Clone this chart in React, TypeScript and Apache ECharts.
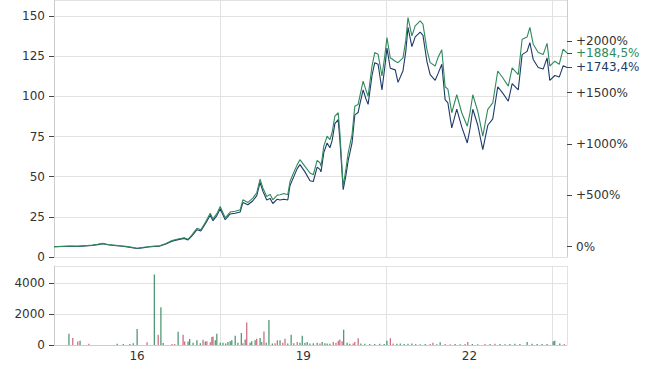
import React, { useEffect, useRef } from "react";
import * as echarts from "echarts";

// x values: years since Jan 2015
const X_MAX = 9.26;
const X_GRID_STEP = 3;
const X_LABEL_POS = [1.5, 4.5, 7.5];
const X_LABELS = ["16", "19", "22"];

const PRICE_T = [
  0.0, 0.14, 0.29, 0.43, 0.56, 0.69, 0.79, 0.88, 0.97, 1.08, 1.19, 1.3, 1.41, 1.5, 1.59, 1.7, 1.81, 1.91,
  2.02, 2.13, 2.24, 2.35, 2.42, 2.49, 2.58, 2.65, 2.73, 2.82, 2.87, 2.94, 3.0, 3.09, 3.18, 3.27, 3.36, 3.41,
  3.5, 3.59, 3.66, 3.72, 3.77, 3.84, 3.9, 3.95, 4.03, 4.08, 4.15, 4.22, 4.26, 4.31, 4.39, 4.44, 4.53, 4.62,
  4.68, 4.75, 4.8, 4.82, 4.87, 4.93, 4.98, 5.02, 5.07, 5.13, 5.16, 5.22, 5.27, 5.31, 5.38, 5.43, 5.49, 5.52,
  5.58, 5.63, 5.67, 5.74, 5.79, 5.85, 5.92, 5.97, 6.01, 6.07, 6.16, 6.21, 6.3, 6.35, 6.39, 6.46, 6.52, 6.61,
  6.66, 6.73, 6.79, 6.88, 6.93, 7.0, 7.06, 7.11, 7.18, 7.27, 7.36, 7.46, 7.51, 7.56, 7.65, 7.74, 7.83, 7.92,
  8.01, 8.1, 8.2, 8.27, 8.38, 8.45, 8.54, 8.59, 8.65, 8.74, 8.83, 8.9, 8.95, 9.04, 9.12, 9.19, 9.26,
];

const GREEN = [
  6.4, 6.6, 6.8, 6.7, 7.0, 7.4, 7.9, 8.5, 7.8, 7.4, 7.0, 6.6, 6.0, 5.4, 5.9, 6.4, 6.8, 7.0,
  8.4, 10.2, 11.2, 12.0, 11.0, 13.8, 17.9, 17.0, 21.5, 27.3, 23.7, 27.0, 31.4, 24.4, 28.0, 28.5, 29.4, 35.6,
  34.0, 36.7, 40.0, 48.5, 43.0, 37.7, 39.0, 35.6, 38.5, 38.8, 39.5, 38.8, 47.0, 51.2, 57.5, 60.6, 56.4, 52.3,
  51.2, 60.2, 58.7, 56.4, 69.0, 75.2, 73.0, 77.5, 87.7, 89.8, 77.5, 43.9, 55.0, 64.8, 76.2, 93.9, 95.0, 100.0,
  109.5, 104.0, 100.0, 118.9, 127.3, 126.2, 112.7, 125.0, 136.6, 124.0, 121.9, 121.0, 124.0, 135.0, 149.0, 137.7, 143.9, 147.0,
  145.0, 129.4, 121.0, 118.9, 124.0, 129.0, 106.0, 104.5, 89.8, 101.0, 89.8, 81.4, 90.0, 101.0, 90.6, 75.2, 91.9, 95.9,
  115.8, 111.6, 106.4, 117.7, 113.6, 135.6, 137.0, 143.0, 132.5, 127.3, 126.0, 133.0, 118.9, 121.9, 120.0, 129.4, 127.0,
];

const BLUE = [
  6.4, 6.5, 6.7, 6.6, 6.9, 7.2, 7.7, 8.3, 7.6, 7.2, 6.8, 6.4, 5.8, 5.3, 5.7, 6.2, 6.5, 6.8,
  8.1, 9.8, 10.8, 11.6, 10.6, 13.2, 17.0, 16.2, 20.5, 26.0, 22.6, 25.8, 30.0, 23.2, 26.8, 27.2, 28.0, 34.0,
  32.5, 35.0, 38.2, 46.5, 41.0, 35.5, 36.5, 33.3, 36.0, 35.5, 36.0, 35.5, 44.5, 48.5, 55.0, 57.5, 53.0, 47.5,
  47.0, 56.0, 54.5, 53.0, 65.0, 71.0, 68.0, 72.5, 83.0, 85.5, 73.0, 41.9, 51.0, 60.0, 71.0, 88.5, 90.0, 95.0,
  104.0, 98.5, 95.0, 113.0, 121.0, 120.0, 104.0, 118.0, 130.0, 117.5, 116.5, 108.7, 116.0, 128.0, 143.0, 131.0, 137.0, 140.0,
  138.0, 122.0, 113.6, 110.0, 114.0, 120.0, 98.0, 96.0, 80.4, 92.0, 81.0, 71.0, 80.0, 92.0, 82.0, 66.8, 82.0, 86.0,
  106.0, 102.0, 97.0, 108.0, 104.0, 126.0, 128.0, 133.5, 123.0, 118.0, 117.0, 124.0, 110.0, 113.0, 112.0, 119.0, 118.0,
];

const VOL_T = [
  0.27, 0.34, 0.43, 0.47, 0.63, 1.14, 1.25, 1.37, 1.43, 1.5, 1.68, 1.81, 1.88, 1.93, 1.97, 2.13, 2.18, 2.24,
  2.33, 2.36, 2.42, 2.45, 2.51, 2.58, 2.64, 2.69, 2.73, 2.76, 2.82, 2.85, 2.87, 2.91, 2.94, 3.0, 3.05, 3.1,
  3.14, 3.18, 3.21, 3.27, 3.32, 3.38, 3.41, 3.45, 3.48, 3.54, 3.57, 3.63, 3.66, 3.72, 3.75, 3.79, 3.83, 3.88,
  3.94, 3.99, 4.03, 4.08, 4.13, 4.17, 4.22, 4.28, 4.33, 4.39, 4.44, 4.48, 4.53, 4.57, 4.62, 4.68, 4.75, 4.8,
  4.84, 4.89, 4.93, 4.98, 5.04, 5.09, 5.13, 5.16, 5.2, 5.23, 5.29, 5.34, 5.4, 5.43, 5.49, 5.54, 5.61, 5.7,
  5.79, 5.88, 5.96, 6.01, 6.07, 6.12, 6.19, 6.25, 6.32, 6.39, 6.46, 6.53, 6.61, 6.7, 6.79, 6.84, 6.91, 6.97,
  7.06, 7.15, 7.24, 7.33, 7.42, 7.47, 7.55, 7.65, 7.78, 7.87, 7.96, 8.05, 8.14, 8.23, 8.32, 8.41, 8.54, 8.63,
  8.72, 8.81, 8.9, 9.01, 9.04, 9.13, 9.21,
];

const VOL_V = [
  720, 450, 230, 280, 80, 80, 60, 70, 110, 1040, 170, 4550, 660, 2430, 130, 60, 70, 850,
  660, 220, 230, 380, 150, 300, 120, 340, 230, 250, 180, 510, 550, 300, 720, 150, 150, 100,
  200, 250, 300, 600, 150, 770, 120, 350, 1450, 150, 250, 300, 400, 450, 200, 870, 150, 1620,
  100, 120, 300, 300, 150, 400, 100, 660, 120, 200, 150, 590, 150, 200, 100, 120, 150, 100,
  200, 120, 100, 80, 200, 150, 270, 350, 250, 980, 150, 80, 100, 200, 430, 100, 80, 70,
  60, 80, 70, 280, 430, 100, 80, 100, 60, 80, 100, 60, 50, 70, 60, 150, 50, 170,
  60, 50, 60, 50, 70, 200, 60, 50, 60, 70, 80, 60, 50, 60, 80, 70, 200, 80,
  60, 70, 60, 250, 280, 100, 60,
];

// 1 = up day (green), 0 = down day (red)
const VOL_UP = [
  1, 0, 0, 1, 0, 1, 1, 1, 1, 1, 0, 1, 0, 1, 1, 0, 0, 1,
  0, 0, 1, 1, 1, 1, 1, 0, 1, 0, 0, 0, 0, 1, 1, 1, 1, 1,
  1, 1, 1, 1, 1, 1, 0, 1, 0, 1, 1, 1, 0, 1, 0, 0, 1, 1,
  1, 0, 0, 1, 0, 0, 1, 1, 1, 0, 1, 1, 1, 1, 1, 1, 1, 0,
  1, 1, 1, 1, 0, 0, 0, 0, 0, 1, 1, 1, 0, 0, 0, 1, 1, 1,
  1, 1, 1, 1, 0, 0, 1, 1, 1, 1, 1, 0, 1, 1, 0, 0, 1, 1,
  0, 0, 1, 1, 0, 0, 1, 1, 0, 1, 0, 1, 1, 1, 1, 1, 1, 1,
  1, 1, 1, 1, 1, 1, 0,
];

const PCT_TICKS = [0, 500, 1000, 1500, 2000];
const LAST_LABELS = ["+1884,5%", "+1743,4%"];

const GREEN_C = "#2f8a5c";
const BLUE_C = "#1e3a68";
const VOL_GREEN = "#1d7a4c";
const VOL_RED = "#c0465e";
const TEXT_C = "#333";
const AXIS_C = "#cccccc";
const SPLIT_C = "#e2e2e2";
const FONT = "DejaVu Sans";

export default function App() {
  const ref = useRef<HTMLDivElement>(null);

  useEffect(() => {
    if (!ref.current) return;
    const chart = echarts.init(ref.current, null, { renderer: "svg" });

    const base = GREEN[0];
    const greenLast = GREEN[GREEN.length - 1];
    const blueLast = BLUE[BLUE.length - 1];
    const rightVals = [...PCT_TICKS.map((p) => base * (1 + p / 100)), greenLast, blueLast];
    const rightTexts = [
      ...PCT_TICKS.map((p) => `{n|${p === 0 ? "" : "+"}${p}%}`),
      `{g|${LAST_LABELS[0]}}`,
      `{b|${LAST_LABELS[1]}}`,
    ];

    const volData = VOL_T.map((t, i) => ({
      value: [t, VOL_V[i]],
      itemStyle: { color: VOL_UP[i] ? VOL_GREEN : VOL_RED },
    }));

    const labelBase = { color: TEXT_C, fontSize: 12, fontFamily: FONT };
    const richBase = { fontSize: 12, fontFamily: FONT, lineHeight: 11 };

    chart.setOption({
      animation: false,
      backgroundColor: "#fff",
      grid: [
        { left: 54, right: 83, top: 0, height: 257 },
        { left: 54, right: 83, top: 266, height: 79 },
      ],
      xAxis: [
        {
          type: "value",
          gridIndex: 0,
          min: 0,
          max: X_MAX,
          interval: X_GRID_STEP,
          axisLine: { show: false },
          axisTick: { show: false },
          axisLabel: { show: false },
          splitLine: { show: true, lineStyle: { color: SPLIT_C } },
        },
        {
          type: "value",
          gridIndex: 1,
          min: 0,
          max: X_MAX,
          interval: X_GRID_STEP,
          axisLine: { show: true, lineStyle: { color: AXIS_C } },
          axisTick: { show: false },
          axisLabel: {
            ...labelBase,
            margin: 5,
            customValues: X_LABEL_POS,
            formatter: (v: number) => {
              const i = X_LABEL_POS.findIndex((p) => Math.abs(p - v) < 1e-6);
              return i >= 0 ? X_LABELS[i] : "";
            },
          },
          splitLine: { show: true, lineStyle: { color: SPLIT_C } },
        },
      ],
      yAxis: [
        {
          type: "value",
          gridIndex: 0,
          position: "left",
          min: 0,
          max: 160,
          interval: 25,
          axisLine: { show: true, lineStyle: { color: AXIS_C } },
          axisTick: { show: true, length: 5, lineStyle: { color: "#444" } },
          axisLabel: { ...labelBase, margin: 9, showMaxLabel: false },
          splitLine: { show: true, lineStyle: { color: SPLIT_C } },
        },
        {
          type: "value",
          gridIndex: 0,
          position: "right",
          min: 0,
          max: 160,
          axisLine: { show: true, lineStyle: { color: AXIS_C } },
          axisTick: { show: true, length: 5, customValues: rightVals, lineStyle: { color: "#444" } },
          axisLabel: {
            ...labelBase,
            margin: 9,
            customValues: rightVals,
            formatter: (v: number) => {
              const i = rightVals.findIndex((x) => Math.abs(x - v) < 1e-6);
              return i >= 0 ? rightTexts[i] : "";
            },
            rich: {
              n: { ...richBase, color: TEXT_C },
              g: { ...richBase, color: GREEN_C },
              b: { ...richBase, color: BLUE_C },
            },
          },
          splitLine: { show: false },
        },
        {
          type: "value",
          gridIndex: 1,
          min: 0,
          max: 5100,
          interval: 2000,
          axisLine: { show: true, lineStyle: { color: AXIS_C } },
          axisTick: { show: true, length: 5, lineStyle: { color: "#444" } },
          axisLabel: {
            ...labelBase,
            margin: 9,
            showMaxLabel: false,
            formatter: (v: number) => String(v),
          },
          splitLine: { show: true, lineStyle: { color: SPLIT_C } },
        },
      ],
      series: [
        {
          type: "line",
          xAxisIndex: 0,
          yAxisIndex: 0,
          data: PRICE_T.map((t, i) => [t, BLUE[i]]),
          showSymbol: false,
          lineStyle: { color: BLUE_C, width: 1.1 },
          itemStyle: { color: BLUE_C },
        },
        {
          type: "line",
          xAxisIndex: 0,
          yAxisIndex: 0,
          data: PRICE_T.map((t, i) => [t, GREEN[i]]),
          showSymbol: false,
          lineStyle: { color: GREEN_C, width: 1.1 },
          itemStyle: { color: GREEN_C },
        },
        {
          type: "bar",
          xAxisIndex: 1,
          yAxisIndex: 2,
          data: volData,
          barWidth: 1,
        },
      ],
    });

    return () => chart.dispose();
  }, []);

  return (
    <div
      ref={ref}
      style={{ position: "absolute", left: 0, top: 0, width: 650, height: 370 }}
    />
  );
}
